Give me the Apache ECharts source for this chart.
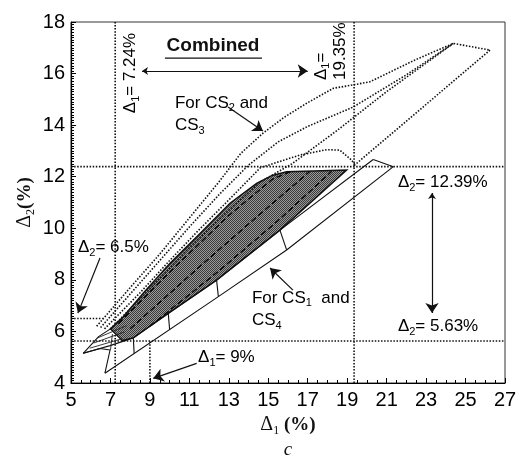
<!DOCTYPE html>
<html>
<head>
<meta charset="utf-8">
<style>
  html, body { margin: 0; padding: 0; background: #fff; }
  #chart { width: 521px; height: 465px; }
</style>
</head>
<body>
<div id="chart"></div>
<script src="https://cdn.jsdelivr.net/npm/echarts@6.0.0/dist/echarts.min.js"></script>
<script>
// axis ranges
var xRange = [5, 27], xStep = 2;
var yRange = [4, 18], yStep = 2;

// reference lines (dotted)
var refX = [7.24, 19.35];
var refY = [12.39, 5.63];
var ref65 = [[5, 6.5], [6.6, 6.5]];
var ref9 = [[9, 4], [9, 5.63]];

// CS1 and CS4 band (solid)
var bandBottom = [[6.72, 4.38], [12.47, 7.35], [15.93, 9.16], [21.34, 12.39], [20.32, 12.67]];
var bandTop = [[20.32, 12.67], [15.59, 9.93], [12.38, 7.99], [9.93, 6.70], [8.16, 5.75], [6.98, 5.45], [5.62, 5.15]];
var bandCap = [[5.62, 5.15], [6.47, 5.34], [6.98, 5.28], [6.72, 4.38]];
var bandEdge = [[5.62, 5.15], [6.4, 5.8], [7.0, 6.1]];
var bandTicks = [
  [[15.59, 9.93], [15.93, 9.16]],
  [[12.38, 7.99], [12.47, 7.35]],
  [[9.93, 6.70], [10.0, 6.07]],
  [[8.16, 5.75], [8.2, 5.14]]
];
var capHatch = [
  [[5.95, 5.35], [7.6, 5.72]],
  [[6.15, 5.55], [7.7, 5.98]],
  [[6.35, 5.75], [7.8, 6.22]],
  [[7.0, 5.28], [7.1, 5.9]]
];

// shaded region (combined)
var shaded = [[7.0, 6.1], [7.65, 6.57], [8.66, 7.48], [10.02, 8.64], [11.54, 9.8], [13.06, 10.97],
  [14.41, 11.74], [15.2, 12.05], [15.93, 12.19], [18.97, 12.26], [15.59, 9.93], [12.38, 7.99],
  [9.93, 6.70], [8.16, 5.75], [7.6, 5.65]];
var innerDash = [
  [[7.4, 6.3], [10.0, 8.3], [13.0, 10.5], [15.2, 11.9], [16.1, 12.19]],
  [[8.0, 6.1], [11.5, 8.5], [14.5, 10.5], [17.1, 12.2]],
  [[9.0, 6.2], [12.5, 8.35], [15.5, 10.3], [18.2, 12.2]]
];

// CS2 and CS3 (dotted)
var dotLines = [
  [[6.3, 6.2], [8.0, 7.7], [9.5, 9.0], [11.0, 10.4], [12.5, 11.8], [13.6, 12.9], [14.75, 13.7],
   [15.8, 14.3], [16.95, 14.85], [18.3, 15.43], [19.3, 15.56], [20.15, 15.68], [22.5, 16.55],
   [24.38, 17.17], [26.24, 16.91]],
  [[6.5, 6.15], [8.0, 7.45], [9.5, 8.75], [11.0, 10.05], [12.5, 11.3], [14.0, 12.45], [15.5, 13.35],
   [17.0, 13.95], [19.3, 14.7], [22.0, 15.95], [24.38, 17.17]],
  [[6.7, 6.1], [8.5, 7.5], [10.0, 8.75], [11.5, 9.95], [13.0, 11.1], [14.6, 12.35], [16.6, 12.84],
   [17.96, 13.05], [18.63, 13.03], [19.22, 12.65], [19.4, 12.45]],
  [[7.0, 6.1], [9.0, 7.65], [11.0, 9.25], [13.0, 10.7], [14.6, 11.8], [16.2, 12.5], [18.5, 13.8],
   [21.0, 15.3], [24.38, 17.17]],
  [[26.24, 16.91], [19.3, 12.4]]
];

// arrows
var arrowCombined = [[8.6, 16.1], [17.0, 16.1]];
var arrowDelta2 = [[23.3, 11.37], [23.3, 6.71]];
var arrowCS23 = [[12.96, 14.7], [14.73, 13.77]];
var arrowCS14 = [[16.25, 7.6], [15.09, 8.46]];
var arrow65 = [[6.47, 8.85], [5.35, 6.71]];
var arrow9 = [[11.37, 4.76], [9.17, 4.18]];

var chart = echarts.init(document.getElementById('chart'));

var fillCanvas = document.createElement('canvas');
fillCanvas.width = 2; fillCanvas.height = 2;
(function () {
  var c = fillCanvas.getContext('2d');
  c.fillStyle = '#9a9a9a'; c.fillRect(0, 0, 2, 2);
  c.fillStyle = '#3a3a3a'; c.fillRect(0, 0, 1, 1); c.fillRect(1, 1, 1, 1);
})();

function line(points, style, z) {
  return {
    type: 'line', data: points, showSymbol: false, symbol: 'none', silent: true,
    animation: false, z: z || 3,
    lineStyle: style
  };
}
function poly(points, fill, stroke, z) {
  return {
    type: 'custom', data: points, silent: true, animation: false, z: z || 2,
    encode: { x: 0, y: 1 },
    renderItem: function (params, api) {
      if (params.dataIndex !== 0) return;
      var pts = points.map(function (p) { return api.coord(p); });
      return { type: 'polygon', shape: { points: pts },
        style: { fill: fill, stroke: stroke, lineWidth: 1.5 } };
    }
  };
}
function arrow(pts, both) {
  return {
    type: 'lines', coordinateSystem: 'cartesian2d', silent: true, animation: false, z: 6,
    symbol: both ? ['arrow', 'arrow'] : ['none', 'arrow'], symbolSize: [6, 10],
    lineStyle: { color: '#111', width: 1.2, opacity: 1 },
    data: [{ coords: pts }]
  };
}

var dotted = { color: '#111', width: 1.6, type: [1.5, 1.6] };
var solid = { color: '#111', width: 1.1 };

var series = [];
refX.forEach(function (v) { series.push(line([[v, yRange[0]], [v, yRange[1]]], dotted, 1)); });
refY.forEach(function (v) { series.push(line([[xRange[0], v], [xRange[1], v]], dotted, 1)); });
series.push(line(ref65, dotted, 1));
series.push(line(ref9, dotted, 1));

series.push(poly(shaded, { image: fillCanvas, repeat: 'repeat' }, '#111', 2));
innerDash.forEach(function (p) { series.push(line(p, { color: '#000', width: 1.3, type: [6, 3] }, 3)); });

series.push(line(bandBottom, solid, 4));
series.push(line(bandTop, solid, 4));
series.push(line(bandCap, solid, 4));
series.push(line(bandEdge, solid, 4));
bandTicks.forEach(function (p) { series.push(line(p, solid, 4)); });
capHatch.forEach(function (p) { series.push(line(p, { color: '#222', width: 0.9 }, 4)); });

dotLines.forEach(function (p) { series.push(line(p, dotted, 3)); });

series.push(arrow(arrowCombined, true));
series.push(arrow(arrowDelta2, true));
series.push(arrow(arrowCS23));
series.push(arrow(arrowCS14));
series.push(arrow(arrow65));
series.push(arrow(arrow9));

var axisFont = { fontFamily: 'Liberation Sans', fontSize: 20, color: '#000' };
var nameRich = {
  d: { fontFamily: 'Liberation Serif', fontSize: 20, color: '#111' },
  s: { fontFamily: 'Liberation Serif', fontSize: 12, color: '#111', verticalAlign: 'bottom', lineHeight: 24 },
  p: { fontFamily: 'Liberation Serif', fontSize: 19, fontWeight: 'bold', color: '#111' }
};

chart.setOption({
  animation: false,
  grid: { left: 71, right: 16, top: 22, bottom: 82, show: true, borderColor: '#333', borderWidth: 1 },
  xAxis: {
    type: 'value', min: xRange[0], max: xRange[1], interval: xStep,
    name: '{d|Δ}{s|1}{p| (%)}', nameLocation: 'middle', nameGap: 30, nameMoveOverlap: false,
    nameTextStyle: { rich: nameRich },
    axisLine: { lineStyle: { color: '#000', width: 1.2 } },
    axisTick: { inside: true, length: 5, lineStyle: { color: '#000' } },
    minorTick: { show: true, splitNumber: 4, length: 3, lineStyle: { color: '#000' } },
    splitLine: { show: false },
    axisLabel: Object.assign({ margin: 7 }, axisFont)
  },
  yAxis: {
    type: 'value', min: yRange[0], max: yRange[1], interval: yStep,
    name: '{d|Δ}{s|2}{p|(%)}', nameLocation: 'middle', nameGap: 34, nameRotate: 90, nameMoveOverlap: false,
    nameTextStyle: { rich: nameRich },
    axisLine: { lineStyle: { color: '#000', width: 1.2 } },
    axisTick: { inside: true, length: 5, lineStyle: { color: '#000' } },
    minorTick: { show: true, splitNumber: 20, length: 3, lineStyle: { color: '#000' } },
    splitLine: { show: false },
    axisLabel: Object.assign({ margin: 6 }, axisFont)
  },
  series: series
});

// annotations anchored in data coordinates
function px(p) { return chart.convertToPixel({ gridIndex: 0 }, p); }
var rich = {
  t: { fontFamily: 'Liberation Sans', fontSize: 17, color: '#111', lineHeight: 20 },
  s: { fontFamily: 'Liberation Sans', fontSize: 11, color: '#111', lineHeight: 22, verticalAlign: 'bottom' }
};
function label(text, at, opts) {
  var p = px(at);
  opts = opts || {};
  return {
    type: 'text', x: p[0], y: p[1], rotation: opts.rot || 0, z: 10, silent: true,
    style: { text: text, rich: rich, align: opts.align || 'left', verticalAlign: 'middle' }
  };
}

var u1 = px([9.76, 16.6]), u2 = px([14.68, 16.6]);
var cPos = px([16, 4]);
chart.setOption({
  graphic: [
    { type: 'text', x: px([12.2, 17.07])[0], y: px([12.2, 17.07])[1], z: 10, silent: true,
      style: { text: 'Combined', fontFamily: 'Liberation Sans', fontSize: 19, fontWeight: 'bold',
        fill: '#111', align: 'center', verticalAlign: 'middle' } },
    { type: 'line', z: 10, silent: true, shape: { x1: u1[0], y1: u1[1], x2: u2[0], y2: u2[1] },
      style: { stroke: '#111', lineWidth: 1.3 } },
    label('{t|Δ}{s|1}{t|= 7.24%}', [7.99, 16.02], { rot: Math.PI / 2, align: 'center' }),
    label('{t|Δ}{s|1}{t|=}', [17.67, 15.75], { rot: Math.PI / 2 }),
    label('{t|19.35%}', [18.63, 15.75], { rot: Math.PI / 2 }),
    label('{t|For CS}{s|2}{t| and}', [10.27, 14.86]),
    label('{t|CS}{s|3}', [10.27, 14.0]),
    label('{t|Δ}{s|2}{t|= 12.39%}', [21.57, 11.79]),
    label('{t|Δ}{s|2}{t|= 5.63%}', [21.57, 6.21]),
    label('{t|Δ}{s|2}{t|= 6.5%}', [5.35, 9.27]),
    label('{t|For CS}{s|1}{t|  and}', [14.17, 7.3]),
    label('{t|CS}{s|4}', [14.17, 6.44]),
    label('{t|Δ}{s|1}{t|= 9%}', [11.44, 5.0]),
    { type: 'text', x: cPos[0], y: 450, z: 10, silent: true,
      style: { text: 'c', fontFamily: 'Liberation Serif', fontSize: 19, fontStyle: 'italic',
        fill: '#111', align: 'center', verticalAlign: 'middle' } }
  ]
});
</script>
</body>
</html>
